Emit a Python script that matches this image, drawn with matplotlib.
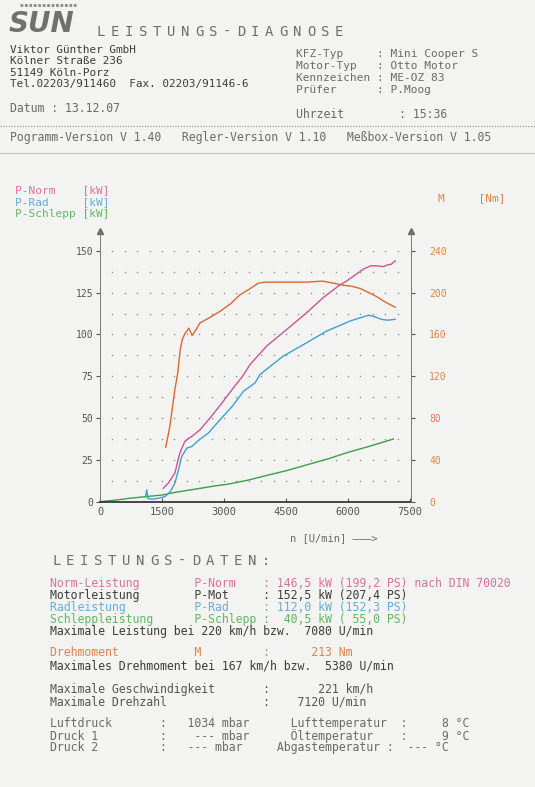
import numpy as np
import matplotlib
matplotlib.use("Agg")
import matplotlib.pyplot as plt
from matplotlib.lines import Line2D

norm_rpm = [1530, 1650, 1810, 1930, 2050, 2150, 2220, 2420, 2660, 2950, 3225, 3450, 3630,
            4030, 4520, 5000, 5400, 5770, 5970, 6200, 6370, 6550, 6700, 6850, 6950, 7050, 7140]
norm_kw = [8, 11, 17, 29, 36, 38, 39, 43, 50, 59, 68, 75, 82,
           93, 103, 113, 122, 129, 132, 136, 139, 141, 141, 140.5, 141.5, 142, 144]

rad_rpm = [1100, 1130, 1160, 1250, 1400, 1570, 1700, 1810, 1900, 1976, 2100, 2220, 2400, 2620,
           2940, 3200, 3470, 3750, 3870, 4430, 5000, 5480, 5770, 6050, 6300, 6500, 6650, 6810, 6950, 7140]
rad_kw = [3, 7, 2, 1.5, 2, 3, 6, 11, 19, 27, 32, 33, 37, 41,
          50, 57, 66, 71, 76, 87, 95, 102, 105, 108, 110, 111.5, 110.5, 109, 108.5, 109]

schlepp_rpm = [0, 400, 700, 1100, 1500, 1800, 2300, 2800, 3100, 3600, 4000, 4500, 5000, 5500, 6000, 6500, 7100]
schlepp_kw = [0, 1, 2, 3, 4, 5.5, 7.5, 9.5, 10.5, 13, 15.5, 18.5, 22, 25.5, 29.5, 33, 37.5]

m_rpm = [1590, 1690, 1810, 1880, 1940, 1990, 2056, 2150, 2230, 2330, 2420, 2650, 2900, 3150, 3390,
         3600, 3830, 4000, 4500, 5000, 5380, 5650, 5890, 6100, 6290, 6500, 6700, 6900, 7140]
m_nm = [52, 72, 107, 123, 145, 155, 161, 166, 159, 165, 171, 176, 182, 189, 198,
        203, 209, 210, 210, 210, 211, 209, 207, 206, 204, 200, 196, 191, 186]

x_ticks = [0, 1500, 3000, 4500, 6000, 7500]
kw_ticks = [0, 25, 50, 75, 100, 125, 150]
nm_ticks = [0, 40, 80, 120, 160, 200, 240]

W, H = 535, 787
paper = '#f3f3f1'
c_pink, c_blue, c_green, c_orange = '#c95597', '#3f9fd0', '#3f9f45', '#d8692f'
t_pink, t_blue, t_green, t_orange = '#d9729f', '#68acd8', '#62b862', '#e0844a'
dark, gray, light = '#3c3c3c', '#555555', '#6a6a6a'
mono = 'DejaVu Sans Mono'

fig = plt.figure(figsize=(W / 100, H / 100), dpi=100, facecolor=paper)


def put(px, py, s, color=gray, size=8.3, **kw):
    fig.text(px / W, 1 - py / H, s, color=color, fontsize=size, family=mono,
             va='center', ha=kw.pop('ha', 'left'), **kw)


def spaced(px, py, s, step=14, color='#6e6e6e', size=10):
    for i, ch in enumerate(s):
        put(px + i * step, py, ch, color=color, size=size)


def hline(py, x0=0, x1=W, **kw):
    fig.add_artist(Line2D([x0 / W, x1 / W], [1 - py / H, 1 - py / H], transform=fig.transFigure, **kw))


# Kopf
fig.text(9 / W, 1 - 24 / H, 'SUN', fontsize=20, fontweight='bold', style='italic',
         color='#707070', va='center', family='DejaVu Sans')
for yy in [13, 17, 21, 25, 29, 33]:
    hline(yy, 8, 80, color=paper, lw=0.7)
hline(5, 20, 76, color='#8a8a8a', lw=2, ls=(0, (1, 0.6)))
spaced(97, 32, 'LEISTUNGS-DIAGNOSE')

put(10, 50, 'Viktor Günther GmbH', dark, 7.9)
put(10, 61.5, 'Kölner Straße 236', dark, 7.9)
put(10, 73, '51149 Köln-Porz', dark, 7.9)
put(10, 84.5, 'Tel.02203/911460  Fax. 02203/91146-6', dark, 7.9)
put(10, 108, 'Datum : 13.12.07', light)

for py, k, v in [(54, 'KFZ-Typ', 'Mini Cooper S'), (66, 'Motor-Typ', 'Otto Motor'),
                 (78, 'Kennzeichen', 'ME-OZ 83'), (90, 'Prüfer', 'P.Moog')]:
    put(296, py, f'{k:<12}: {v}', light, 8)
put(296, 114, f"{'Uhrzeit':<15}: 15:36", light)

hline(126, color='#8a8a8a', lw=0.8, ls=(0, (1, 1.5)))
put(10, 138, 'Pogramm-Version V 1.40   Regler-Version V 1.10   Meßbox-Version V 1.05', light)
hline(153, color='#b8b8b8', lw=0.6)

# Legende
put(15, 190, 'P-Norm    [kW]', t_pink, 8)
put(15, 202, 'P-Rad     [kW]', t_blue, 8)
put(15, 214, 'P-Schlepp [kW]', t_green, 8)
put(438, 198, 'M     [Nm]', t_orange, 8)

# Diagramm
ymax = 162
ax = fig.add_axes([100 / W, 1 - 501.7 / H, 311 / W, 271 / H])
ax.set_facecolor('none')
ax.set_xlim(0, 7524)
ax.set_ylim(0, ymax)
ax2 = ax.twinx()
ax2.set_ylim(0, ymax * 1.6)

gx, gy = np.meshgrid(np.arange(300, 7201, 300), np.arange(12.5, 150.1, 12.5))
ax.scatter(gx.ravel(), gy.ravel(), s=1.2, color='#8c8c8c', lw=0)

ax.plot(schlepp_rpm, schlepp_kw, color=c_green, lw=1)
ax.plot(rad_rpm, rad_kw, color=c_blue, lw=1)
ax.plot(norm_rpm, norm_kw, color=c_pink, lw=1)
ax2.plot(m_rpm, m_nm, color=c_orange, lw=1)

for a in (ax, ax2):
    a.spines['top'].set_visible(False)
ax.spines['right'].set_visible(False)
ax2.spines['left'].set_visible(False)
ax2.spines['bottom'].set_visible(False)
ax.spines['left'].set_color('#7a7a7a')
ax.spines['left'].set_linewidth(0.7)
ax2.spines['right'].set_color('#7a7a7a')
ax2.spines['right'].set_linewidth(0.7)
ax.spines['bottom'].set_color('#2a2a2a')
ax.spines['bottom'].set_linewidth(1.2)

ax.plot([0], [ymax], marker='^', color='#6a6a6a', ms=4, clip_on=False)
ax.plot([7524], [ymax], marker='^', color='#6a6a6a', ms=4, clip_on=False)

ax.set_xticks(x_ticks)
ax.set_xticklabels([str(v) for v in x_ticks], family=mono, fontsize=7.5, color=gray)
ax.tick_params(axis='x', direction='in', length=3, pad=4, color='#555555')
ax.set_yticks(kw_ticks)
ax.set_yticklabels([str(v) for v in kw_ticks], family=mono, fontsize=7, color=gray)
ax.tick_params(axis='y', direction='out', length=3, pad=2, color='#555555')
ax2.set_yticks(nm_ticks)
ax2.set_yticklabels([str(v) for v in nm_ticks], family=mono, fontsize=7, color=t_orange)
ax2.tick_params(axis='y', direction='out', length=3, pad=10, color='#555555')

put(290, 538, 'n [U/min] ———>', light, 7.5)

# Leistungsdaten
spaced(52, 561, 'LEISTUNGS-DATEN:')

rows = [
    (583, f"{'Norm-Leistung':<21}{'P-Norm':<10}: 146,5 kW (199,2 PS) nach DIN 70020", t_pink),
    (595, f"{'Motorleistung':<21}{'P-Mot':<10}: 152,5 kW (207,4 PS)", dark),
    (607, f"{'Radleistung':<21}{'P-Rad':<10}: 112,0 kW (152,3 PS)", t_blue),
    (619, f"{'Schleppleistung':<21}{'P-Schlepp':<10}:  40,5 kW ( 55,0 PS)", t_green),
    (632, "Maximale Leistung bei 220 km/h bzw.  7080 U/min", dark),
    (653, f"{'Drehmoment':<21}{'M':<10}:      213 Nm", t_orange),
    (666, "Maximales Drehmoment bei 167 km/h bzw.  5380 U/min", dark),
    (689, f"{'Maximale Geschwindigkeit':<31}:       221 km/h", gray),
    (702, f"{'Maximale Drehzahl':<31}:    7120 U/min", gray),
    (724, f"{'Luftdruck':<16}:   1034 mbar      {'Lufttemperatur':<16}:     8 °C", light),
    (736, f"{'Druck 1':<16}:    --- mbar      {'Öltemperatur':<16}:     9 °C", light),
    (748, f"{'Druck 2':<16}:   --- mbar     {'Abgastemperatur':<16}:  --- °C", light),
]
for py, s, c in rows:
    put(50, py, s, c)

fig.savefig('out.png', dpi=100, facecolor=paper)
